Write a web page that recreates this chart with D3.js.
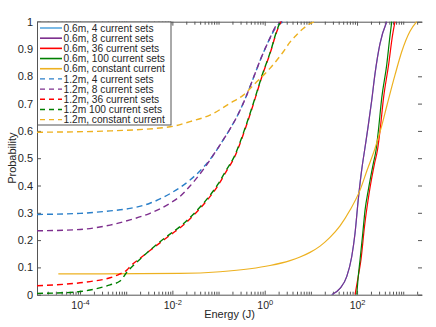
<!DOCTYPE html>
<html><head><meta charset="utf-8">
<script src="https://cdn.jsdelivr.net/npm/d3@7"></script>
<style>
body{margin:0;background:#fff}
svg{display:block}
text{font-family:"Liberation Sans",Arial,Helvetica,sans-serif;fill:#262626}
</style>
</head><body><svg id="c" width="436" height="327"></svg>
<script>
// ---------- data ----------
const seriesNames = ["0.6m, 4 current sets","0.6m, 8 current sets","0.6m, 36 current sets","0.6m, 100 current sets","0.6m, constant current",
  "1.2m, 4 current sets","1.2m, 8 current sets","1.2m, 36 current sets","1.2m 100 current sets","1.2m, constant current"];

// 0.6 m (solid)
const e06_4   = [28.2, 42.8, 59.7, 76.6, 90.4, 106, 126, 149, 175, 207, 245, 314, 439];
const p06_4   = [0, 0.023, 0.066, 0.139, 0.225, 0.347, 0.457, 0.54, 0.62, 0.71, 0.81, 0.92, 1.0];
const e06_8   = [28.2, 42.8, 59.7, 76.6, 90.4, 106, 126, 149, 175, 207, 245, 314, 439];
const p06_8   = [0, 0.023, 0.066, 0.139, 0.225, 0.347, 0.457, 0.54, 0.62, 0.71, 0.81, 0.92, 1.0];
const e06_36  = [90.4, 106, 122, 145, 186, 239, 277, 314, 374, 480, 586, 664];
const p06_36  = [0, 0.066, 0.13, 0.25, 0.38, 0.48, 0.53, 0.6, 0.72, 0.84, 0.95, 1.0];
const e06_100 = [98.4, 106, 116, 133, 149, 175, 225, 258, 288, 342, 439, 518, 564];
const p06_100 = [0, 0.066, 0.127, 0.225, 0.31, 0.383, 0.481, 0.53, 0.597, 0.72, 0.842, 0.95, 1.0];
const e06_c   = [3.39e-5, 0.0146, 0.108, 0.481, 1.30, 3.53, 5.82, 9.57, 15.8, 25.9, 42.8, 70.5, 116, 164, 245, 330, 445, 664, 927, 1403, 1959];
const p06_c   = [0.076, 0.078, 0.084, 0.095, 0.107, 0.125, 0.138, 0.155, 0.178, 0.21, 0.252, 0.31, 0.383, 0.455, 0.536, 0.609, 0.694, 0.805, 0.89, 0.965, 1.0];

// 1.2 m (dashed)
const e12_4   = [1.17e-5, 1e-4, 4.47e-4, 1.21e-3, 3.27e-3, 8.89e-3, 0.0241, 0.0461, 0.0759, 0.119, 0.177, 0.264, 0.394, 0.586, 0.874, 1.30, 1.76, 2.37, 3.04];
const p12_4   = [0.294, 0.298, 0.307, 0.316, 0.335, 0.37, 0.42, 0.465, 0.51, 0.56, 0.607, 0.66, 0.725, 0.8, 0.875, 0.94, 0.98, 0.997, 1.0];
const e12_8   = [1.17e-5, 1e-4, 4.47e-4, 1.21e-3, 3.27e-3, 8.89e-3, 0.0146, 0.0241, 0.0461, 0.0759, 0.119, 0.177, 0.264, 0.394, 0.586, 0.874, 1.30, 1.76, 2.37];
const p12_8   = [0.234, 0.239, 0.255, 0.274, 0.298, 0.335, 0.36, 0.398, 0.457, 0.51, 0.56, 0.607, 0.66, 0.725, 0.8, 0.875, 0.94, 0.985, 1.0];
const e12_36  = [1.17e-5, 4.35e-5, 1.64e-4, 4.47e-4, 7.35e-4, 1.03e-3, 1.21e-3, 1.99e-3, 3.27e-3, 5.40e-3, 8.89e-3, 0.0173, 0.0325, 0.0592, 0.0974, 0.145, 0.216, 0.365, 0.572, 0.874, 1.40, 1.71, 1.99, 2.25];
const p12_36  = [0.033, 0.038, 0.048, 0.062, 0.076, 0.09, 0.103, 0.133, 0.162, 0.19, 0.218, 0.255, 0.3, 0.35, 0.4, 0.45, 0.5, 0.6, 0.7, 0.8, 0.9, 0.95, 0.98, 1.0];
const e12_100 = [1.17e-5, 4.35e-5, 1.64e-4, 4.47e-4, 7.35e-4, 1.03e-3, 1.21e-3, 1.99e-3, 3.27e-3, 5.40e-3, 8.89e-3, 0.0173, 0.0325, 0.0592, 0.0974, 0.145, 0.216, 0.365, 0.572, 0.874, 1.40, 1.71, 1.97, 2.2];
const p12_100 = [0.005, 0.007, 0.017, 0.036, 0.05, 0.082, 0.095, 0.13, 0.163, 0.194, 0.222, 0.26, 0.305, 0.355, 0.405, 0.455, 0.504, 0.604, 0.703, 0.803, 0.902, 0.952, 0.982, 1.0];
const e12_c   = [1.17e-5, 4.47e-4, 8.89e-3, 0.0241, 0.0653, 0.177, 0.344, 0.671, 1.30, 2.53, 3.53, 4.93, 6.85, 9.57, 12.3];
const p12_c   = [0.595, 0.6, 0.615, 0.634, 0.658, 0.701, 0.731, 0.78, 0.829, 0.89, 0.925, 0.952, 0.975, 0.993, 1.0];

const yTicks = [0, 0.1, 0.2, 0.3, 0.4, 0.5, 0.6, 0.7, 0.8, 0.9, 1];
const yTickLabels = ["0","0.1","0.2","0.3","0.4","0.5","0.6","0.7","0.8","0.9","1"];
const xMajorTicks = [1e-4, 1e-2, 1, 100];
const xMajorExp = ["-4","-2","0","2"];
const xDomain = [1.17e-5, 2550];

// ---------- styles ----------
const colors = ["#5aa9e0","#7E2F8E","#FF0000","#008000","#EDB120","#2a7fc9","#7E2F8E","#FF0000","#008000","#EDB120"];
const dashed = [false,false,false,false,false,true,true,true,true,true];

const energies = [e06_4,e06_8,e06_36,e06_100,e06_c,e12_4,e12_8,e12_36,e12_100,e12_c];
const probs    = [p06_4,p06_8,p06_36,p06_100,p06_c,p12_4,p12_8,p12_36,p12_100,p12_c];

const L = 37, R = 422, T = 21.7, B = 294.7;
const svg = d3.select("#c");
const x = d3.scaleLog().domain(xDomain).range([L, R]);
const y = d3.scaleLinear().domain([0, 1]).range([B, T]);

// minor ticks
const xMinor = [];
for (let k = -5; k <= 3; k++) for (let m = 1; m <= 9; m++) {
  const v = m * Math.pow(10, k);
  if (v >= xDomain[0] && v <= xDomain[1] && !xMajorTicks.includes(v)) xMinor.push(v);
}

const axisColor = "#555";

// bottom axis major
const gB = svg.append("g").attr("transform", `translate(0,${B})`)
  .call(d3.axisBottom(x).tickValues(xMajorTicks).tickSize(-4).tickSizeOuter(0).tickPadding(7).tickFormat(() => ""));
gB.selectAll(".tick text").each(function(d, i) {
  const t = d3.select(this).attr("font-size", 10.5);
  t.append("tspan").text("10");
  t.append("tspan").attr("dy", -4.5).attr("font-size", 7.5).text(xMajorExp[i]);
});
svg.append("g").attr("transform", `translate(0,${B})`)
  .call(d3.axisBottom(x).tickValues(xMinor).tickSize(-3).tickSizeOuter(0).tickFormat(() => ""))
  .select(".domain").remove();

// top axis
svg.append("g").attr("transform", `translate(0,${T})`)
  .call(d3.axisTop(x).tickValues(xMajorTicks).tickSize(-4).tickSizeOuter(0).tickFormat(() => ""));
svg.append("g").attr("transform", `translate(0,${T})`)
  .call(d3.axisTop(x).tickValues(xMinor).tickSize(-3).tickSizeOuter(0).tickFormat(() => ""))
  .select(".domain").remove();

// left axis
svg.append("g").attr("transform", `translate(${L},0)`)
  .call(d3.axisLeft(y).tickValues(yTicks).tickSize(-4).tickSizeOuter(0).tickPadding(4).tickFormat((d, i) => yTickLabels[i]))
  .selectAll(".tick text").attr("font-size", 11);
// right axis ticks
svg.append("g").attr("transform", `translate(${R},0)`)
  .call(d3.axisRight(y).tickValues(yTicks).tickSize(-4).tickSizeOuter(0).tickFormat(() => ""))
  .select(".domain").remove();

svg.selectAll(".domain, .tick line").attr("stroke", axisColor);
svg.selectAll(".tick text").attr("fill", "#262626").attr("font-family", '"Liberation Sans",Arial,sans-serif');

// clip
svg.append("clipPath").attr("id", "clip").append("rect")
  .attr("x", L).attr("y", T - 2).attr("width", R - L).attr("height", B - T + 2);

const line = d3.line().x(d => x(d[0])).y(d => y(d[1])).curve(d3.curveMonotoneX);
const gL = svg.append("g").attr("clip-path", "url(#clip)");
energies.forEach((es, i) => {
  const pts = es.map((e, j) => [e, probs[i][j]]);
  gL.append("path").attr("d", line(pts)).attr("fill", "none")
    .attr("stroke", colors[i]).attr("stroke-width", dashed[i] ? 1.4 : 1.2)
    .attr("stroke-dasharray", dashed[i] ? "6,4" : null);
});

// axis labels
svg.append("text").attr("x", (L + R) / 2).attr("y", 318).attr("text-anchor", "middle")
  .attr("font-size", 11).text("Energy (J)");
svg.append("text").attr("transform", `translate(15.5,${(T + B) / 2}) rotate(-90)`)
  .attr("text-anchor", "middle").attr("font-size", 11).text("Probability");

// legend
const lg = svg.append("g");
lg.append("rect").attr("x", 37.5).attr("y", 22).attr("width", 133.5).attr("height", 103)
  .attr("fill", "#fff").attr("stroke", axisColor).attr("stroke-width", 1);
seriesNames.forEach((n, i) => {
  const yy = 28 + i * 10.18;
  lg.append("line").attr("x1", 40).attr("x2", 62).attr("y1", yy).attr("y2", yy)
    .attr("stroke", colors[i]).attr("stroke-width", dashed[i] ? 1.4 : 1.6)
    .attr("stroke-dasharray", dashed[i] ? "5,4" : null);
  lg.append("text").attr("x", 63.5).attr("y", yy + 3.6).attr("font-size", 10.2).text(n);
});
</script>
</body></html>
